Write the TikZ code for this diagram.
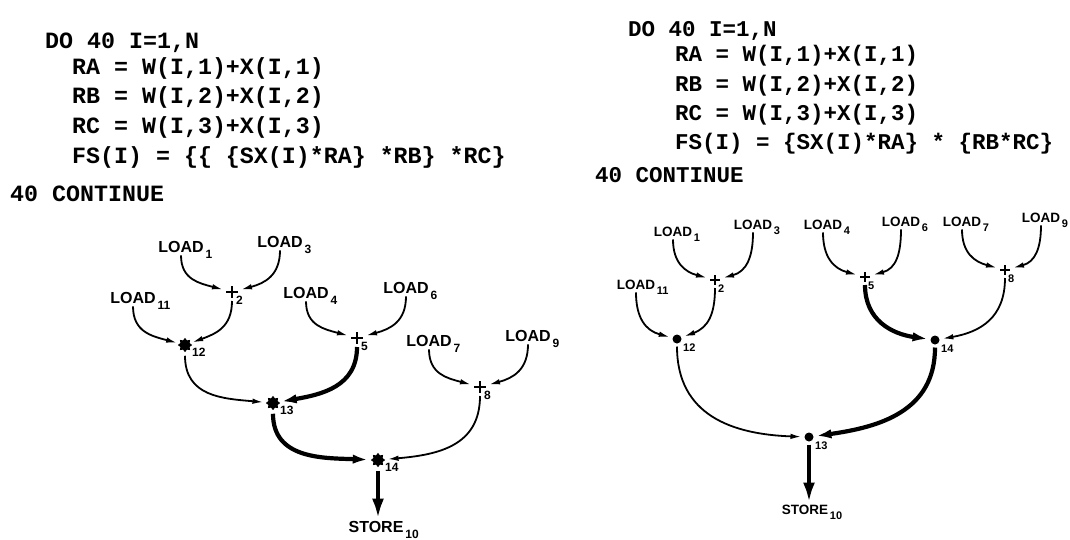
\documentclass[tikz,border=0pt]{standalone}
\usepackage{fontspec}
\setmainfont{Liberation Sans}
\newfontfamily\codefont{Liberation Mono}
\usetikzlibrary{arrows.meta,shapes.geometric}
\tikzset{
  lcode/.style={anchor=base west, inner sep=0pt, font=\codefont\bfseries\fontsize{23.3}{24}\selectfont},
  rcode/.style={anchor=base west, inner sep=0pt, font=\codefont\bfseries\fontsize{22.5}{23}\selectfont},
  lld/.style={inner sep=2.5pt, font=\bfseries\fontsize{16}{16}\selectfont},
  rld/.style={inner sep=2.5pt, font=\bfseries\fontsize{13.5}{14}\selectfont},
  lnum/.style={anchor=north west, inner sep=0pt, font=\bfseries\fontsize{12}{12}\selectfont},
  rnum/.style={anchor=north west, inner sep=0pt, font=\bfseries\fontsize{11}{11}\selectfont},
  plusop/.style={minimum size=#1, inner sep=0pt, outer sep=3pt,
    path picture={\draw[line width=2.8pt] (path picture bounding box.north) -- (path picture bounding box.south)
      (path picture bounding box.west) -- (path picture bounding box.east);}},
  starop/.style={star, star points=8, star point ratio=1.45, fill, draw, line width=0.8pt, inner sep=0pt, minimum size=13pt, outer sep=2.5pt},
  dotop/.style={circle, fill, inner sep=0pt, minimum size=9pt, outer sep=3pt},
  thin/.style={line width=1.8pt, looseness=1.15, -{Latex[length=11pt,width=5.5pt]}},
  thick/.style={line width=4.2pt, looseness=1.1, -{Latex[length=15pt,width=9.5pt]}},
  vthick/.style={line width=4.5pt, -{Latex[length=20pt,width=12pt]}},
}
\newcommand{\lsub}[1]{\rlap{\smash{\raisebox{-5.5pt}{\fontsize{12}{12}\selectfont\,#1}}}}
\newcommand{\rsub}[1]{\rlap{\smash{\raisebox{-5pt}{\fontsize{11}{11}\selectfont\,#1}}}}
\begin{document}
\begin{tikzpicture}[x=1pt,y=1pt]
\useasboundingbox (0,0) rectangle (1070,-539);
% ---------------- left code
\node[lcode] (lc1) at (45,-48) {DO 40 I=1,N};
\node[lcode] (lc2) at (72,-74.5) {RA = W(I,1)+X(I,1)};
\node[lcode] (lc3) at (72,-103.5) {RB = W(I,2)+X(I,2)};
\node[lcode] (lc4) at (72,-133.5) {RC = W(I,3)+X(I,3)};
\node[lcode] (lc5) at (72,-163.5) {FS(I) = \{\{ \{SX(I)*RA\} *RB\} *RC\}};
\node[lcode] (lc6) at (10,-201.5) {40 CONTINUE};
% ---------------- right code
\node[rcode] (rc1) at (628,-36) {DO 40 I=1,N};
\node[rcode] (rc2) at (675,-61) {RA = W(I,1)+X(I,1)};
\node[rcode] (rc3) at (675,-91) {RB = W(I,2)+X(I,2)};
\node[rcode] (rc4) at (675,-120) {RC = W(I,3)+X(I,3)};
\node[rcode] (rc5) at (675,-149) {FS(I) = \{SX(I)*RA\} * \{RB*RC\}};
\node[rcode] (rc6) at (595,-182) {40 CONTINUE};

% ---------------- left graph
\node[lld] (a1) at (181,-247) {LOAD\lsub{1}};
\node[lld] (a3) at (280,-242) {LOAD\lsub{3}};
\node[lld] (a11) at (133,-298) {LOAD\lsub{11}};
\node[lld] (a4) at (306,-293) {LOAD\lsub{4}};
\node[lld] (a6) at (406,-288) {LOAD\lsub{6}};
\node[lld] (a7) at (429,-341) {LOAD\lsub{7}};
\node[lld] (a9) at (528,-336) {LOAD\lsub{9}};
\node[plusop=12pt] (ap2) at (232,-292) {};
\node[plusop=12pt] (ap5) at (357,-338) {};
\node[plusop=12pt] (ap8) at (480,-387) {};
\node[starop] (am12) at (185,-345) {};
\node[starop] (am13) at (273,-403) {};
\node[starop] (am14) at (378,-460) {};
\node[lld] (as10) at (376,-527) {STORE\lsub{10}};
\node[lnum] (an2) at ([shift={(4,-4)}]ap2.center) {2};
\node[lnum] (an5) at ([shift={(4,-4)}]ap5.center) {5};
\node[lnum] (an8) at ([shift={(4,-4)}]ap8.center) {8};
\node[lnum] (an12) at ([shift={(7,-3)}]am12.center) {12};
\node[lnum] (an13) at ([shift={(7,-3)}]am13.center) {13};
\node[lnum] (an14) at ([shift={(7,-3)}]am14.center) {14};

\draw[thin] (a1.south) to[out=-90,in=165] (ap2);
\draw[thin] (a3.south) to[out=-90,in=15] (ap2);
\draw[thin] (a11.south) to[out=-90,in=165] (am12);
\draw[thin] (ap2.south) to[out=-90,in=20] (am12);
\draw[thin] (a4.south) to[out=-90,in=165] (ap5);
\draw[thin] (a6.south) to[out=-90,in=15] (ap5);
\draw[thin] (a7.south) to[out=-90,in=165] (ap8);
\draw[thin] (a9.south) to[out=-90,in=15] (ap8);
\draw[thin] (am12.south) to[out=-90,in=175] (am13);
\draw[thick] (ap5.south) to[out=-90,in=10] (am13);
\draw[thick] (am13.south) to[out=-90,in=178] (am14);
\draw[thin] (ap8.south) to[out=-90,in=5] (am14);
\draw[vthick] (am14.south) -- (am14.south |- as10.north);

% ---------------- right graph
\node[rld] (b1) at (673,-232) {LOAD\rsub{1}};
\node[rld] (b3) at (753,-225) {LOAD\rsub{3}};
\node[rld] (b4) at (823,-225) {LOAD\rsub{4}};
\node[rld] (b6) at (901,-222) {LOAD\rsub{6}};
\node[rld] (b7) at (962,-222) {LOAD\rsub{7}};
\node[rld] (b9) at (1041,-218) {LOAD\rsub{9}};
\node[rld] (b11) at (636,-285) {LOAD\rsub{11}};
\node[plusop=10pt] (bp2) at (715,-280) {};
\node[plusop=10pt] (bp5) at (865,-277) {};
\node[plusop=10pt] (bp8) at (1005,-270) {};
\node[dotop] (bm12) at (677,-339) {};
\node[dotop] (bm14) at (935,-340) {};
\node[dotop] (bm13) at (809,-437) {};
\node[rld] (bs10) at (805,-510) {STORE\rsub{10}};
\node[rnum] (bn2) at ([shift={(3,-5)}]bp2.center) {2};
\node[rnum] (bn5) at ([shift={(3,-5)}]bp5.center) {5};
\node[rnum] (bn8) at ([shift={(3,-5)}]bp8.center) {8};
\node[rnum] (bn12) at ([shift={(6,-5)}]bm12.center) {12};
\node[rnum] (bn14) at ([shift={(6,-5)}]bm14.center) {14};
\node[rnum] (bn13) at ([shift={(6,-5)}]bm13.center) {13};

\draw[thin] (b1.south) to[out=-90,in=165] (bp2);
\draw[thin] (b3.south) to[out=-90,in=15] (bp2);
\draw[thin] (b11.south) to[out=-90,in=165] (bm12);
\draw[thin] (bp2.south) to[out=-90,in=20] (bm12);
\draw[thin] (b4.south) to[out=-90,in=165] (bp5);
\draw[thin] (b6.south) to[out=-90,in=15] (bp5);
\draw[thin] (b7.south) to[out=-90,in=165] (bp8);
\draw[thin] (b9.south) to[out=-90,in=15] (bp8);
\draw[thick] (bp5.south) to[out=-90,in=172] (bm14);
\draw[thin] (bp8.south) to[out=-90,in=10] (bm14);
\draw[thin] (bm12.south) to[out=-90,in=178] (bm13);
\draw[thick] (bm14.south) to[out=-90,in=8] (bm13);
\draw[vthick] (bm13.south) -- (bm13.south |- bs10.north);
\end{tikzpicture}
\end{document}
